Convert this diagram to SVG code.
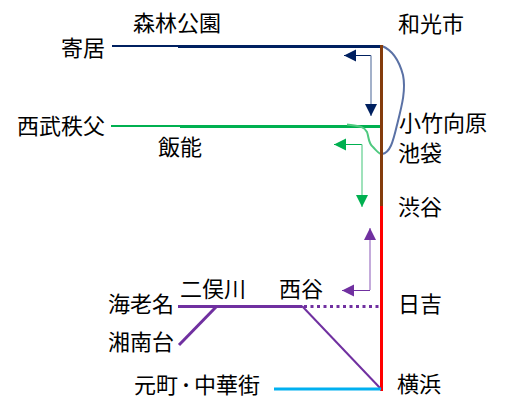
<svg xmlns="http://www.w3.org/2000/svg" width="506" height="407" viewBox="0 0 506 407">
<style>
text{font-family:"Noto Sans CJK JP","Noto Sans",sans-serif;font-size:22px;fill:#000}
.e{text-anchor:end}
line,path{fill:none}
</style>
<defs>
<marker id="an" markerUnits="userSpaceOnUse" markerWidth="14" markerHeight="14" refX="12" refY="6" orient="auto"><path d="M0 0L12 6L0 12Z" style="fill:#002060"/></marker>
<marker id="ag" markerUnits="userSpaceOnUse" markerWidth="14" markerHeight="14" refX="12" refY="6" orient="auto"><path d="M0 0L12 6L0 12Z" style="fill:#00b050"/></marker>
<marker id="ap" markerUnits="userSpaceOnUse" markerWidth="14" markerHeight="14" refX="12" refY="6" orient="auto"><path d="M0 0L12 6L0 12Z" style="fill:#7030a0"/></marker>
</defs>
<g id="connectors">
<line x1="112" y1="46" x2="178" y2="46" stroke="#002060" stroke-width="2"/>
<line x1="178" y1="46.500" x2="381" y2="46.500" stroke="#002060" stroke-width="3"/>
<line x1="111" y1="126" x2="180" y2="126" stroke="#00b050" stroke-width="2"/>
<line x1="180" y1="126.500" x2="380" y2="126.500" stroke="#00b050" stroke-width="3"/>
<path d="M347 124.500C358 126 364 126 367 132C369 137 368 143 373 147C376 150 378 153 381 154" stroke="#4fc97f" stroke-width="2"/>
<path d="M382 46C392 50 399 60 403 75C406 90 402 105 397 125C393 142 390 153 382 154" stroke="#5a71a5" stroke-width="2"/>
<line x1="381.500" y1="205" x2="381.500" y2="391" stroke="#ff0000" stroke-width="3"/>
<line x1="381.500" y1="45" x2="381.500" y2="206" stroke="#843c0c" stroke-width="3"/>
<path d="M371 55.500H344" stroke="#002060" stroke-width="1" marker-end="url(#an)"/>
<path d="M371 55.500V116" stroke="#8497b8" stroke-width="1.500" marker-end="url(#an)"/>
<path d="M362 144.500H334" stroke="#00b050" stroke-width="1" marker-end="url(#ag)"/>
<path d="M362 144.500V207" stroke="#7fd8a5" stroke-width="1.500" marker-end="url(#ag)"/>
<path d="M370 290V228" stroke="#b18fcf" stroke-width="1.500" marker-end="url(#ap)"/>
<path d="M370 290.500H342" stroke="#7030a0" stroke-width="1" marker-end="url(#ap)"/>
<line x1="178" y1="306.500" x2="302" y2="306.500" stroke="#7030a0" stroke-width="3"/>
<line x1="304" y1="306.500" x2="381" y2="306.500" stroke="#7030a0" stroke-width="3" stroke-dasharray="3 3.500"/>
<line x1="179" y1="345" x2="216" y2="307" stroke="#7030a0" stroke-width="3"/>
<line x1="302" y1="306" x2="381" y2="389" stroke="#7030a0" stroke-width="2"/>
<line x1="274" y1="389" x2="381" y2="389" stroke="#00b0f0" stroke-width="3"/>
</g>
<g id="n1"><text x="133" y="31">森林公園</text></g>
<g id="n2"><text x="398" y="32">和光市</text></g>
<g id="n3"><text class="e" x="105" y="56">寄居</text></g>
<g id="n4"><text class="e" x="105" y="134">西武秩父</text></g>
<g id="n5"><text x="399" y="131">小竹向原</text></g>
<g id="n6"><text x="398" y="161">池袋</text></g>
<g id="n7"><text x="158" y="155">飯能</text></g>
<g id="n8"><text x="398" y="215">渋谷</text></g>
<g id="n9"><text x="180" y="297">二俣川</text></g>
<g id="n10"><text x="279" y="297">西谷</text></g>
<g id="n11"><text class="e" x="174" y="312">海老名</text></g>
<g id="n12"><text x="398" y="312">日吉</text></g>
<g id="n13"><text class="e" x="174" y="350">湘南台</text></g>
<g id="n14"><text x="134" y="393">元町<tspan dx="2.500">･</tspan><tspan dx="2.500">中華街</tspan></text></g>
<g id="n15"><text x="397" y="392">横浜</text></g>
</svg>
